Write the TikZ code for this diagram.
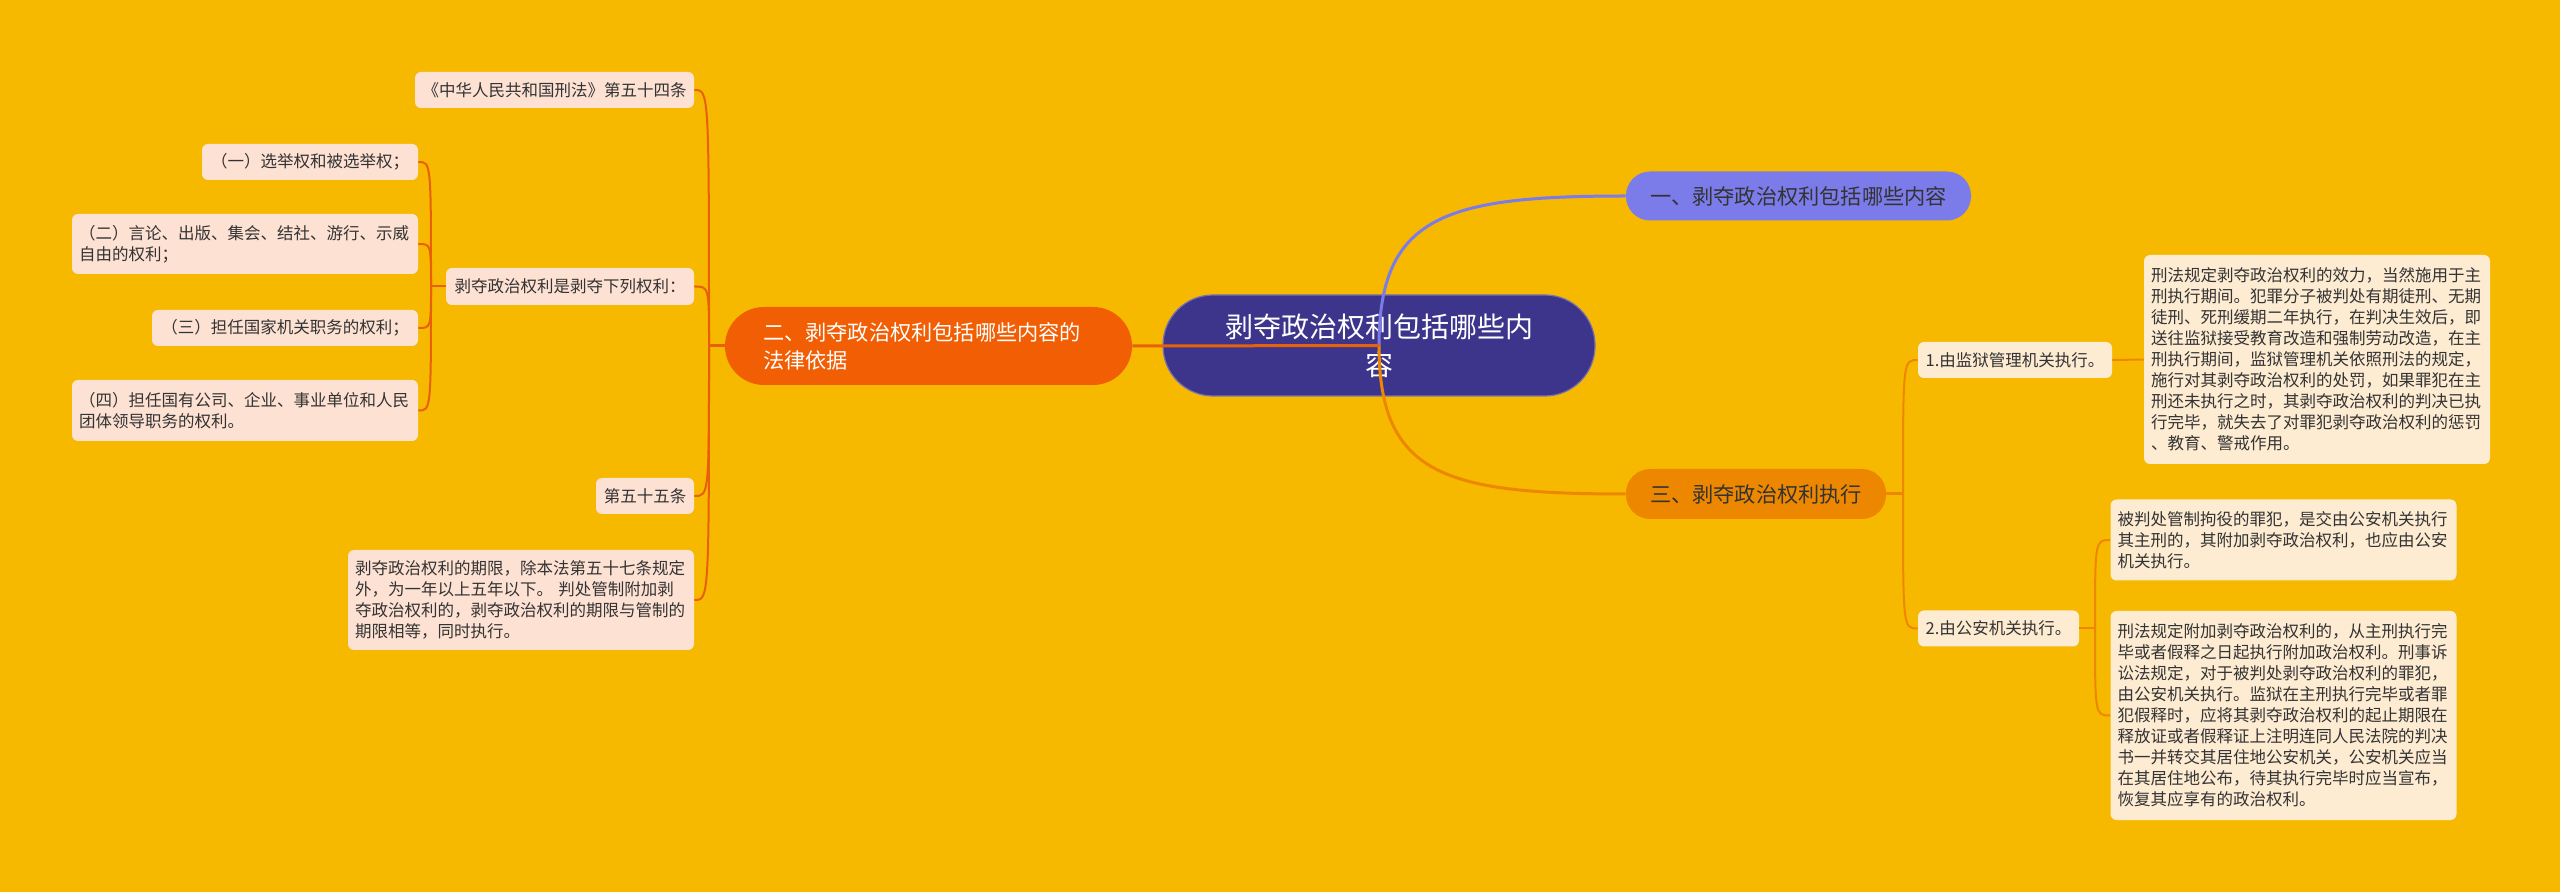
\documentclass[tikz,border=0pt]{standalone}
\usepackage{fontspec}
\newfontfamily\zhfont{Noto Sans CJK SC}
\definecolor{bgc}{HTML}{F6B900}
\definecolor{rootc}{HTML}{3D358B}
\definecolor{onec}{HTML}{7B7BEA}
\definecolor{twoc}{HTML}{F25E04}
\definecolor{threec}{HTML}{EE8700}
\definecolor{twolink}{HTML}{E8600A}
\definecolor{pinkc}{HTML}{FDE1D3}
\definecolor{creamc}{HTML}{FDEBD2}
\definecolor{inkc}{HTML}{333333}

\begin{document}
\begin{tikzpicture}[x=0.5pt, y=-0.5pt,
    topic/.style={fill=rootc, draw=rootc!70!white, line width=0.6pt, text=white, inner sep=0pt,
        rounded corners=25pt, minimum width=216pt, minimum height=50.5pt, align=center,
        font=\zhfont\fontsize{14pt}{19pt}\selectfont},
    main/.style={inner sep=0pt, minimum height=24.5pt, rounded corners=12pt,
        font=\zhfont\fontsize{10.6pt}{14pt}\selectfont},
    leaf/.style={text=inkc, inner sep=0pt, rounded corners=3pt, minimum height=18pt,
        font=\zhfont\fontsize{8.25pt}{10.5pt}\selectfont},
    lleaf/.style={leaf, fill=pinkc},
    rleaf/.style={leaf, fill=creamc},
    para/.style={align=left, inner xsep=3.5pt, text width=166pt},
    linkone/.style={draw=onec, line width=1.5pt},
    linktwo/.style={draw=twolink, line width=1.5pt},
    linkthree/.style={draw=threec, line width=1.5pt},
    twigtwo/.style={draw=twolink, line width=1pt},
    twigthree/.style={draw=threec, line width=1pt}]
    \fill[bgc] (0,0) rectangle (2560,892);
    \useasboundingbox (0,0) rectangle (2560,892);

    \node[topic] (root) at (1379,345.5) {剥夺政治权利包括哪些内\\容};
    \node[main, fill=onec, text=inkc, minimum width=172.5pt] (one) at (1798.5,196) {一、剥夺政治权利包括哪些内容};
    \node[main, fill=twoc, text=white, minimum height=39pt, rounded corners=19.5pt,
        inner xsep=19pt, text width=165.5pt, align=left] (two) at (928.5,346) {二、剥夺政治权利包括哪些内容的\\法律依据};
    \node[main, fill=threec, text=inkc, minimum width=130pt, minimum height=25pt] (three) at (1756,494) {三、剥夺政治权利执行};

    \node[lleaf, minimum width=139.5pt] (law54) at (554.5,90) {《中华人民共和国刑法》第五十四条};
    \node[lleaf, minimum width=124pt, minimum height=18.5pt] (list) at (570,286.5) {剥夺政治权利是剥夺下列权利：};
    \node[lleaf, minimum width=108pt] (r1) at (310,162) {（一）选举权和被选举权；};
    \node[lleaf, para, minimum height=30pt] (r2) at (245,244) {（二）言论、出版、集会、结社、游行、示威\\自由的权利；};
    \node[lleaf, minimum width=133pt] (r3) at (285,328) {（三）担任国家机关职务的权利；};
    \node[lleaf, para, minimum height=30.5pt] (r4) at (245,410.5) {（四）担任国有公司、企业、事业单位和人民\\团体领导职务的权利。};
    \node[lleaf, minimum width=49pt] (law55) at (645,496) {第五十五条};
    \node[lleaf, para, minimum height=50pt] (term) at (521,600) {剥夺政治权利的期限，除本法第五十七条规定\\外，为一年以上五年以下。 判处管制附加剥\\夺政治权利的，剥夺政治权利的期限与管制的\\期限相等，同时执行。};

    \node[rleaf, minimum width=97pt] (e1) at (2015,360) {1.由监狱管理机关执行。};
    \node[rleaf, para, minimum height=104.5pt] (e1t) at (2317,359.5) {刑法规定剥夺政治权利的效力，当然施用于主\\刑执行期间。犯罪分子被判处有期徒刑、无期\\徒刑、死刑缓期二年执行，在判决生效后，即\\送往监狱接受教育改造和强制劳动改造，在主\\刑执行期间，监狱管理机关依照刑法的规定，\\施行对其剥夺政治权利的处罚，如果罪犯在主\\刑还未执行之时，其剥夺政治权利的判决已执\\行完毕，就失去了对罪犯剥夺政治权利的惩罚\\、教育、警戒作用。};
    \node[rleaf, minimum width=80.5pt] (e2) at (1998.5,628.5) {2.由公安机关执行。};
    \node[rleaf, para, minimum height=40.5pt] (e2a) at (2283.5,540) {被判处管制拘役的罪犯，是交由公安机关执行\\其主刑的，其附加剥夺政治权利，也应由公安\\机关执行。};
    \node[rleaf, para, minimum height=104.5pt] (e2b) at (2283.5,715.5) {刑法规定附加剥夺政治权利的，从主刑执行完\\毕或者假释之日起执行附加政治权利。刑事诉\\讼法规定，对于被判处剥夺政治权利的罪犯，\\由公安机关执行。监狱在主刑执行完毕或者罪\\犯假释时，应将其剥夺政治权利的起止期限在\\释放证或者假释证上注明连同人民法院的判决\\书一并转交其居住地公安机关，公安机关应当\\在其居住地公布，待其执行完毕时应当宣布，\\恢复其应享有的政治权利。};

    \coordinate (j2) at (709,346);
    \coordinate (j21) at (431,286.5);
    \coordinate (j3) at (1903,494);
    \coordinate (j32) at (2095,628.5);

    \draw[linkone] (root.center) .. controls +(0,-130) and +(-180,0) .. (one.west);
    \draw[linkthree] (root.center) .. controls +(0,130) and +(-180,0) .. (three.west);
    \draw[linktwo] (root.center) -- (two.east);
    \draw[linktwo] (two.west) -- (j2);
    \foreach \c in {law54,list,law55,term}
        \draw[twigtwo] (j2) .. controls (j2 |- \c.east) .. (\c.east);
    \draw[twigtwo] (list.west) -- (j21);
    \foreach \c in {r1,r2,r3,r4}
        \draw[twigtwo] (j21) .. controls (j21 |- \c.east) .. (\c.east);
    \draw[linkthree] (three.east) -- (j3);
    \foreach \c in {e1,e2}
        \draw[twigthree] (j3) .. controls (j3 |- \c.west) .. (\c.west);
    \draw[twigthree] (e1.east) -- (e1t.west);
    \draw[twigthree] (e2.east) -- (j32);
    \foreach \c in {e2a,e2b}
        \draw[twigthree] (j32) .. controls (j32 |- \c.west) .. (\c.west);
\end{tikzpicture}
\end{document}
